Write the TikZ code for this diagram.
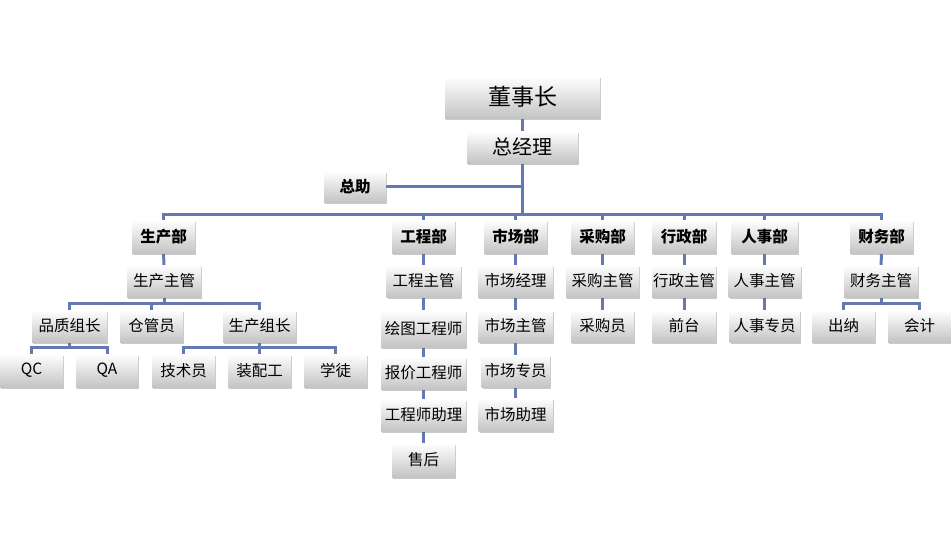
\documentclass[tikz,border=0pt]{standalone}
\usepackage{fontspec}
\newfontfamily\cjk{Noto Sans CJK SC}
\usetikzlibrary{shadows,backgrounds}
\definecolor{linec}{RGB}{100,120,180}
\definecolor{boxbot}{RGB}{196,196,196}
\tikzset{
  box/.style={draw=none, top color=white, bottom color=boxbot, inner sep=0pt,
    font=\cjk\fontsize{15.5}{16}\selectfont,
    drop shadow={shadow xshift=1.2pt, shadow yshift=-1.6pt, opacity=0.35, fill=black!60}},
  dept/.style={box, font=\cjk\bfseries\fontsize{15.5}{16}\selectfont},
  conn/.style={draw=linec, line width=3pt, line join=miter}
}
\newcommand{\bx}[7]{\node[#1, minimum width=#5pt, minimum height=#6pt] (#2) at (#3,#4) {#7};}
\begin{document}
\begin{tikzpicture}[x=1pt,y=-1pt]
\useasboundingbox (0,0) rectangle (951,551);
% top
\bx{box,font=\cjk\fontsize{23}{24}\selectfont}{dsz}{522.5}{97}{155}{42}{董事长}
\bx{box,font=\cjk\fontsize{20}{21}\selectfont}{zjl}{522.5}{147}{111}{32}{总经理}
\bx{dept}{zz}{355}{186.5}{62}{31}{总助}
% departments
\bx{dept}{scb}{163.5}{236.5}{63}{33}{生产部}
\bx{dept}{gcb}{423.5}{236.5}{63}{33}{工程部}
\bx{dept}{scbu}{515.5}{236.5}{63}{33}{市场部}
\bx{dept}{cgb}{602.5}{236.5}{63}{33}{采购部}
\bx{dept}{xzb}{684}{236.5}{64}{33}{行政部}
\bx{dept}{rsb}{764.5}{236.5}{67}{33}{人事部}
\bx{dept}{cwb}{881.5}{236.5}{63}{33}{财务部}
% row 2
\bx{box}{sczg}{164}{281}{74}{32}{生产主管}
\bx{box}{gczg}{423.5}{281}{74}{32}{工程主管}
\bx{box}{scjl}{515.5}{281}{75}{32}{市场经理}
\bx{box}{cgzg}{602.5}{281}{73}{32}{采购主管}
\bx{box}{xzzg}{684}{281}{64}{32}{行政主管}
\bx{box}{rszg}{764.5}{281}{72}{32}{人事主管}
\bx{box}{cwzg}{881}{281}{74}{32}{财务主管}
% row 3
\bx{box}{pzzz}{69.5}{326}{75}{32}{品质组长}
\bx{box}{cgyuan}{151.5}{326}{63}{32}{仓管员}
\bx{box}{sczz}{259.5}{326}{73}{32}{生产组长}
\bx{box}{htgcs}{423.5}{328.5}{85}{37}{绘图工程师}
\bx{box}{sczg2}{515.5}{326}{74}{32}{市场主管}
\bx{box}{cgy2}{602.5}{326}{63}{32}{采购员}
\bx{box}{qt}{684}{326}{64}{32}{前台}
\bx{box}{rszy}{764.5}{326}{70}{32}{人事专员}
\bx{box}{cn}{843.5}{326}{63}{32}{出纳}
\bx{box}{kj}{919.5}{326}{63}{32}{会计}
% row 4
\bx{box}{qc}{31.5}{370.5}{63}{33}{QC}
\bx{box}{qa}{107}{370.5}{62}{33}{QA}
\bx{box}{jsy}{183.5}{370.5}{63}{33}{技术员}
\bx{box}{zpg}{259.5}{370.5}{63}{33}{装配工}
\bx{box}{xt}{335.5}{370.5}{63}{33}{学徒}
\bx{box}{bjgcs}{423.5}{373}{85}{32}{报价工程师}
\bx{box}{sczy}{515.5}{371}{68}{32}{市场专员}
% row 5
\bx{box}{gcszl}{423.5}{415}{85}{32}{工程师助理}
\bx{box}{sczl}{515.5}{414.5}{74}{33}{市场助理}
\bx{box}{sh}{423.5}{460}{63}{34}{售后}
% connectors
\coordinate (bus) at (523,214);
\coordinate (b2) at (0,303);
\coordinate (b3) at (0,347);
\begin{scope}[on background layer]
\draw[conn] (dsz) -- (zjl) -- (zjl |- bus);
\draw[conn] (zz) -- (zjl |- zz);
\draw[conn] (scb) -- (scb |- bus) -- (cwb |- bus) -- (cwb);
\foreach \d in {gcb,scbu,cgb,xzb,rsb} \draw[conn] (\d) -- (\d |- bus);
\draw[conn] (scb) -- (sczg);
\draw[conn] (gcb) -- (sh);
\draw[conn] (scbu) -- (sczl);
\draw[conn] (cgb) -- (cgy2);
\draw[conn] (xzb) -- (qt);
\draw[conn] (rsb) -- (rszy);
\draw[conn] (cwb) -- (cwzg);
\draw[conn] (sczg) -- (sczg |- b2);
\draw[conn] (pzzz) -- (pzzz |- b2) -- (sczz |- b2) -- (sczz);
\draw[conn] (cgyuan) -- (cgyuan |- b2);
\draw[conn] (cwzg) -- (cwzg |- b2);
\draw[conn] (cn) -- (cn |- b2) -- (kj |- b2) -- (kj);
\draw[conn] (pzzz) -- (pzzz |- b3);
\draw[conn] (qc) -- (qc |- b3) -- (qa |- b3) -- (qa);
\draw[conn] (sczz) -- (sczz |- b3);
\draw[conn] (jsy) -- (jsy |- b3) -- (xt |- b3) -- (xt);
\draw[conn] (zpg) -- (zpg |- b3);
\end{scope}
\end{tikzpicture}
\end{document}
